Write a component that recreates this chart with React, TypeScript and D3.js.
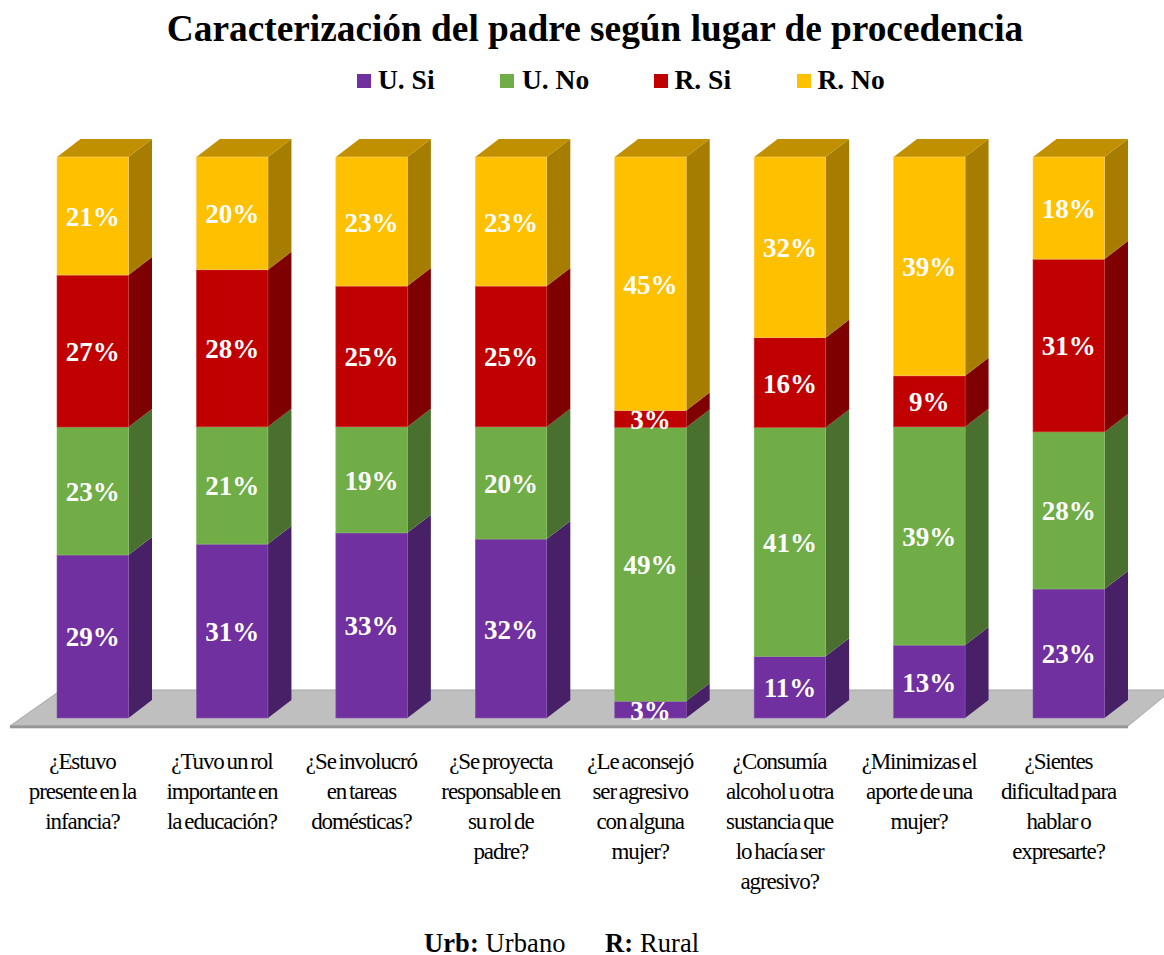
import React from "react";
import * as d3 from "d3";

const categories = [
  ["¿Estuvo", "presente en la", "infancia?"],
  ["¿Tuvo un rol", "importante en", "la educación?"],
  ["¿Se involucró", "en tareas", "domésticas?"],
  ["¿Se proyecta", "responsable en", "su rol de", "padre?"],
  ["¿Le aconsejó", "ser agresivo", "con alguna", "mujer?"],
  ["¿Consumía", "alcohol u otra", "sustancia que", "lo hacía ser", "agresivo?"],
  ["¿Minimizas el", "aporte de una", "mujer?"],
  ["¿Sientes", "dificultad para", "hablar o", "expresarte?"],
];
const seriesNames = ["U. Si", "U. No", "R. Si", "R. No"];
const uSi = [29.06, 31.0, 33.0, 31.9, 3.0, 11.0, 13.0, 23.0];
const uNo = [22.8, 20.9, 18.9, 20.0, 48.8, 40.8, 38.9, 28.0];
const rSi = [27.1, 28.0, 25.1, 25.1, 3.0, 16.0, 9.1, 30.8];
const rNo = [21.04, 20.1, 23.0, 23.0, 45.2, 32.2, 39.0, 18.2];
const seriesValues = [uSi, uNo, rSi, rNo];
const frontColors = ["#7030A0", "#70AD47", "#C00000", "#FFC000"];
const sideColors = ["#482068", "#4A7030", "#7F0000", "#A67D00"];
const topColor = "#C09000";
const edgeColors = ["#8A5CB0", "#8ABF6A", "#CC4040", "#F5CF70"];

const W = 1164, H = 955;
const serif = "'Liberation Serif', 'Times New Roman', serif";
const DX = 23.5, DY = 18;

export default function App() {
  const rows = categories.map((_, i) => {
    const r: Record<string, number> = { i } as any;
    seriesNames.forEach((s, k) => (r[s] = seriesValues[k][i]));
    return r;
  });
  const stacked = d3.stack<any>().keys(seriesNames)(rows);
  const x = d3.scaleLinear().domain([0, 7]).range([57, 1033]);
  const y = d3.scaleLinear().domain([0, 100]).range([718, 157]);
  const bw = 71.5;
  const fmt = (v: number) => `${Math.round(v)}%`;
  const legendX = [357, 500, 654, 797];

  return (
    <svg width={W} height={H} style={{ position: "absolute", left: 0, top: 0, background: "#fff" }} fontFamily={serif}>
      <text x={595} y={41} textAnchor="middle" fontSize={37.35} fontWeight="bold" fill="#000">
        Caracterización del padre según lugar de procedencia
      </text>
      {seriesNames.map((s, k) => (
        <g key={s}>
          <rect x={legendX[k]} y={74} width={14} height={14} fill={frontColors[k]} />
          <text x={legendX[k] + (k === 0 ? 21 : k === 1 ? 22 : 20.5)} y={89} fontSize={27.5} fontWeight="bold" fill="#000">{s}</text>
        </g>
      ))}
      {/* floor */}
      <polygon points="10,726 61,690 1172,690 1128,726" fill="#BFBFBF" stroke="#A6A6A6" strokeWidth={1} />
      <rect x={10} y={725.5} width={1118} height={2.5} fill="#969696" />
      <rect x={10} y={728} width={1118} height={1} fill="#E0E0E0" />
      {categories.map((_, i) => {
        const px = x(i);
        const right = px + bw;
        return (
          <g key={i}>
            {stacked.map((layer, k) => {
              const y0 = y(layer[i][0]);
              const y1 = y(layer[i][1]);
              return (
                <polygon
                  key={k}
                  points={`${right},${y0} ${right + DX},${y0 - DY} ${right + DX},${y1 - DY} ${right},${y1}`}
                  fill={sideColors[k]}
                />
              );
            })}
            <polygon
              points={`${px},${y(100)} ${px + DX},${y(100) - DY} ${right + DX},${y(100) - DY} ${right},${y(100)}`}
              fill={topColor}
            />
            {stacked.map((layer, k) => {
              const y0 = y(layer[i][0]);
              const y1 = y(layer[i][1]);
              return (
                <rect key={k} x={px} y={y1} width={bw} height={y0 - y1} fill={frontColors[k]} stroke={edgeColors[k]} strokeWidth={0.6} />
              );
            })}
            {stacked.map((layer, k) => {
              const y0 = y(layer[i][0]);
              const y1 = y(layer[i][1]);
              return (
                <text key={k} x={px + bw / 2} y={(y0 + y1) / 2 + 10} textAnchor="middle" fontSize={27} fontWeight="bold" fill="#fff">
                  {fmt(seriesValues[k][i])}
                </text>
              );
            })}
            {categories[i].map((line, l) => (
              <text key={l} x={px + 25.5} y={769 + l * 30} textAnchor="middle" fontSize={23} letterSpacing={-1.1} wordSpacing={-1.8} fill="#000">
                {line}
              </text>
            ))}
          </g>
        );
      })}
      <text x={424} y={952} fontSize={26.5} letterSpacing={0.1} fill="#000">
        <tspan fontWeight="bold">Urb: </tspan>Urbano
      </text>
      <text x={605} y={952} fontSize={26.5} letterSpacing={0.1} fill="#000">
        <tspan fontWeight="bold">R: </tspan>Rural
      </text>
    </svg>
  );
}
